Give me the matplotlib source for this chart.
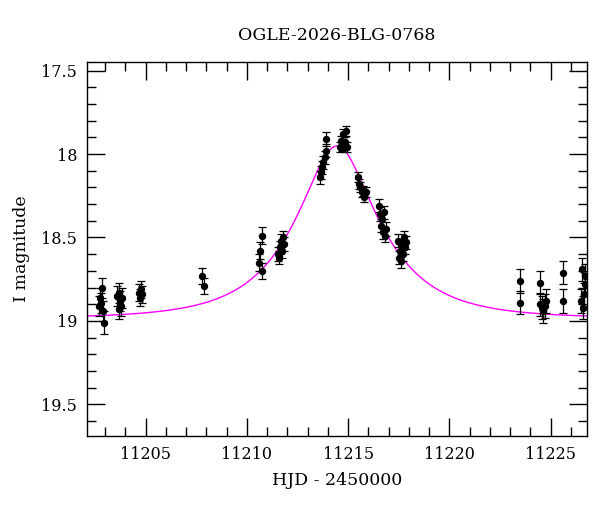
import numpy as np
import matplotlib
matplotlib.use("Agg")
import matplotlib.pyplot as plt
from matplotlib.ticker import MultipleLocator

# ---- data ----
hjd = [
    11202.67, 11202.73, 11202.77, 11202.82, 11202.87, 11202.92,
    11203.56, 11203.66, 11203.66, 11203.71, 11203.76, 11203.81,
    11204.69, 11204.74, 11204.79, 11204.84,
    11207.79, 11207.89,
    11210.60, 11210.65, 11210.75, 11210.75,
    11211.54, 11211.59, 11211.64, 11211.68, 11211.73, 11211.78, 11211.83,
    11213.61, 11213.66, 11213.70, 11213.75, 11213.85, 11213.90, 11213.90,
    11214.59, 11214.64, 11214.69, 11214.74, 11214.79, 11214.84, 11214.89, 11214.94,
    11215.48, 11215.53, 11215.58, 11215.67, 11215.72, 11215.77, 11215.87,
    11216.51, 11216.56, 11216.61, 11216.66, 11216.71, 11216.76, 11216.81, 11216.86,
    11217.45, 11217.50, 11217.55, 11217.60, 11217.65, 11217.70, 11217.74, 11217.79, 11217.84,
    11223.51, 11223.51,
    11224.49, 11224.49, 11224.59, 11224.64, 11224.74, 11224.79,
    11225.63, 11225.63,
    11226.51, 11226.56, 11226.61, 11226.66, 11226.71, 11226.71,
]
imag = [
    18.91, 18.86, 18.89, 18.80, 18.94, 19.01,
    18.85, 18.83, 18.93, 18.88, 18.91, 18.86,
    18.83, 18.86, 18.81, 18.84,
    18.73, 18.79,
    18.65, 18.58, 18.49, 18.70,
    18.60, 18.62, 18.56, 18.52, 18.58, 18.50, 18.54,
    18.14, 18.11, 18.08, 18.05, 18.02, 17.98, 17.91,
    17.96, 17.92, 17.95, 17.88, 17.96, 17.93, 17.86, 17.96,
    18.14, 18.18, 18.20, 18.23, 18.22, 18.26, 18.23,
    18.31, 18.36, 18.43, 18.39, 18.47, 18.35, 18.49, 18.45,
    18.52, 18.62, 18.58, 18.64, 18.55, 18.60, 18.50, 18.56, 18.53,
    18.76, 18.89,
    18.77, 18.90, 18.92, 18.94, 18.91, 18.88,
    18.71, 18.88,
    18.88, 18.69, 18.92, 18.84, 18.78, 18.73,
]
ierr = [
    0.06, 0.06, 0.06, 0.06, 0.06, 0.07,
    0.06, 0.06, 0.06, 0.06, 0.06, 0.06,
    0.05, 0.05, 0.05, 0.05,
    0.05, 0.05,
    0.05, 0.05, 0.05, 0.05,
    0.04, 0.04, 0.04, 0.04, 0.04, 0.04, 0.04,
    0.04, 0.04, 0.04, 0.04, 0.04, 0.04, 0.04,
    0.03, 0.03, 0.03, 0.03, 0.03, 0.03, 0.03, 0.03,
    0.03, 0.03, 0.03, 0.03, 0.03, 0.03, 0.03,
    0.04, 0.04, 0.04, 0.04, 0.04, 0.04, 0.04, 0.04,
    0.04, 0.04, 0.04, 0.04, 0.04, 0.04, 0.04, 0.04, 0.04,
    0.07, 0.07,
    0.07, 0.07, 0.07, 0.07, 0.07, 0.07,
    0.07, 0.07,
    0.07, 0.07, 0.07, 0.07, 0.07, 0.07,
]

# point-lens model parameters (fit curve)
t0 = 11214.45
u0 = 0.41
tE = 3.86
I_base = 18.985

title = "OGLE-2026-BLG-0768"
xlabel = "HJD - 2450000"
ylabel = "I magnitude"

# ---- plot ----
plt.rcParams['font.family'] = ['DejaVu Serif']
fig = plt.figure(figsize=(6.0, 5.12), dpi=100)
ax = fig.add_axes([0.145, 0.1484, 0.8333, 0.7299])

tm = np.linspace(11202.1, 11226.8, 600)
u = np.sqrt(u0**2 + ((tm - t0) / tE) ** 2)
A = (u**2 + 2) / (u * np.sqrt(u**2 + 4))
mod = I_base - 2.5 * np.log10(A)
ax.plot(tm, mod, color='#ff00ff', lw=1.0, zorder=1)

ax.errorbar(hjd, imag, yerr=ierr, fmt='o', color='black', ms=4.3,
            ecolor='black', elinewidth=0.9, capsize=2.8, capthick=0.9, zorder=2)

ax.set_xlim(11202.1, 11226.8)
ax.set_ylim(19.69, 17.45)
ax.xaxis.set_major_locator(MultipleLocator(5))
ax.xaxis.set_minor_locator(MultipleLocator(1))
ax.yaxis.set_major_locator(MultipleLocator(0.5))
ax.yaxis.set_minor_locator(MultipleLocator(0.1))
ax.yaxis.set_major_formatter(matplotlib.ticker.FuncFormatter(lambda v, p: f"{v:g}"))
ax.tick_params(which='both', direction='in', top=True, right=True, width=1.0,
               labelsize=11.5)
ax.tick_params(which='major', length=13, pad=7)
ax.tick_params(which='minor', length=6.5)
for s in ax.spines.values():
    s.set_linewidth(1.0)

ax.set_title(title, fontsize=12.5, pad=16)
ax.set_xlabel(xlabel, fontsize=12.5, labelpad=7)
ax.set_ylabel(ylabel, fontsize=12.5, labelpad=8)

fig.savefig("out.png", dpi=100)
